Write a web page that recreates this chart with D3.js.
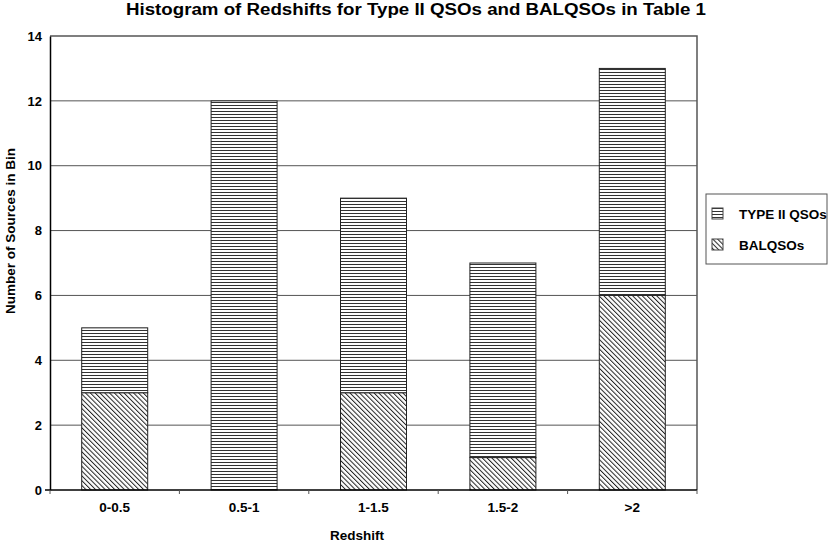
<!DOCTYPE html>
<html>
<head>
<meta charset="utf-8">
<script src="https://cdn.jsdelivr.net/npm/d3@7"></script>
<style>
  body { margin: 0; background: #fff; }
  svg { font-family: "Liberation Sans", Arial, sans-serif; font-weight: bold; }
</style>
</head>
<body>
<div id="chart"></div>
<script>
const categories = ["0-0.5", "0.5-1", "1-1.5", "1.5-2", ">2"];
const balqsos = [3, 0, 3, 1, 6];
const type2 = [2, 12, 6, 6, 7];
const yTicks = [0, 2, 4, 6, 8, 10, 12, 14];
const seriesNames = ["BALQSOs", "TYPE II QSOs"];

const width = 830, height = 550;
const margin = { top: 36, right: 133, bottom: 60, left: 50 };
const innerW = width - margin.left - margin.right;
const innerH = height - margin.top - margin.bottom;

const svg = d3.select("#chart").append("svg")
  .attr("width", width).attr("height", height);

// hatch patterns
const defs = svg.append("defs");
const horiz = defs.append("pattern").attr("id", "horiz")
  .attr("patternUnits", "userSpaceOnUse").attr("width", 8).attr("height", 3);
horiz.append("rect").attr("width", 8).attr("height", 3).attr("fill", "#fff");
horiz.append("line").attr("x1", 0).attr("x2", 8).attr("y1", 0.5).attr("y2", 0.5)
  .attr("stroke", "#333").attr("stroke-width", 1);

const diag = defs.append("pattern").attr("id", "diag")
  .attr("patternUnits", "userSpaceOnUse").attr("width", 3.4).attr("height", 3.4)
  .attr("patternTransform", "rotate(-45)");
diag.append("rect").attr("width", 3.4).attr("height", 3.4).attr("fill", "#fff");
diag.append("line").attr("x1", 0.5).attr("x2", 0.5).attr("y1", 0).attr("y2", 3.4)
  .attr("stroke", "#222").attr("stroke-width", 1);

const fills = { "BALQSOs": "url(#diag)", "TYPE II QSOs": "url(#horiz)" };

const g = svg.append("g").attr("transform", `translate(${margin.left},${margin.top})`);

const x = d3.scaleBand().domain(categories).range([0, innerW]).paddingInner(0.49).paddingOuter(0.245);
const xBins = d3.scaleBand().domain(categories).range([0, innerW]);
const y = d3.scaleLinear().domain([0, 14]).range([innerH, 0]);

// gridlines
g.append("g").selectAll("line").data(yTicks.filter(d => d > 0 && d < 14)).join("line")
  .attr("x1", 0).attr("x2", innerW)
  .attr("y1", d => y(d)).attr("y2", d => y(d))
  .attr("stroke", "#555").attr("stroke-width", 1);

// plot border (top/right)
g.append("path")
  .attr("d", `M0,${y(14)}H${innerW}V${y(0)}`)
  .attr("fill", "none").attr("stroke", "#555").attr("stroke-width", 1.5);

// stacked bars
const rows = categories.map((c, i) => ({ cat: c, "BALQSOs": balqsos[i], "TYPE II QSOs": type2[i] }));
const stacked = d3.stack().keys(seriesNames)(rows);

g.append("g").selectAll("g").data(stacked).join("g")
  .attr("fill", d => fills[d.key])
  .selectAll("rect").data(d => d.filter(p => p[1] > p[0])).join("rect")
  .attr("x", d => x(d.data.cat))
  .attr("width", x.bandwidth())
  .attr("y", d => y(d[1]))
  .attr("height", d => y(d[0]) - y(d[1]))
  .attr("stroke", "#222").attr("stroke-width", 1);

// y axis
const yAxis = g.append("g")
  .call(d3.axisLeft(y).tickValues(yTicks).tickSize(0).tickPadding(8));
yAxis.select(".domain").attr("stroke", "#000").attr("stroke-width", 1.5);
yAxis.selectAll("text").attr("font-size", 13).attr("fill", "#000").attr("font-weight", "bold")
  .attr("font-family", "Liberation Sans, Arial, sans-serif");

// x axis with ticks at bin boundaries
const xAxis = g.append("g").attr("transform", `translate(0,${innerH})`);
xAxis.append("line").attr("x1", -5).attr("x2", innerW).attr("stroke", "#000").attr("stroke-width", 1.5);
const bounds = categories.map(c => xBins(c)).concat([innerW]);
xAxis.selectAll("line.tk").data(bounds).join("line").attr("class", "tk")
  .attr("x1", d => d).attr("x2", d => d).attr("y1", 0).attr("y2", 4)
  .attr("stroke", "#555").attr("stroke-width", 1);
xAxis.selectAll("text").data(categories).join("text")
  .attr("x", d => xBins(d) + xBins.bandwidth() / 2)
  .attr("y", 22).attr("text-anchor", "middle").attr("font-size", 13.5).text(d => d);

// titles
svg.append("text").attr("x", 416).attr("y", 15).attr("text-anchor", "middle")
  .attr("font-size", 16).attr("textLength", 580).attr("lengthAdjust", "spacingAndGlyphs")
  .text("Histogram of Redshifts for Type II QSOs and BALQSOs in Table 1");
svg.append("text").attr("x", 357).attr("y", 540).attr("text-anchor", "middle")
  .attr("font-size", 13.5).text("Redshift");
svg.append("text").attr("transform", "translate(14.5,231) rotate(-90)").attr("text-anchor", "middle")
  .attr("font-size", 13.5).text("Number of Sources in Bin");

// legend
const legend = svg.append("g").attr("transform", "translate(706,194)");
legend.append("rect").attr("width", 121).attr("height", 70)
  .attr("fill", "#fff").attr("stroke", "#555").attr("stroke-width", 1);
const legendItems = ["TYPE II QSOs", "BALQSOs"];
legend.selectAll("g").data(legendItems).join("g")
  .attr("transform", (d, i) => `translate(6,${14 + i * 31})`)
  .each(function (d) {
    const it = d3.select(this);
    it.append("rect").attr("width", 11).attr("height", 11)
      .attr("fill", fills[d]).attr("stroke", "#444").attr("stroke-width", 1);
    it.append("text").attr("x", 27).attr("y", 11).attr("font-size", 13.5).text(d);
  });
</script>
</body>
</html>
